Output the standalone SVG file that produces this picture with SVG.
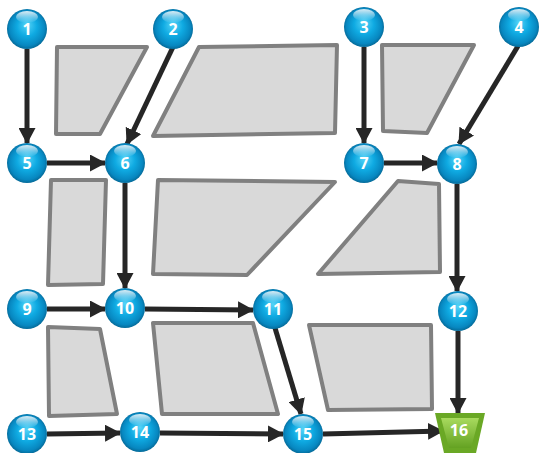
<svg xmlns="http://www.w3.org/2000/svg" width="540" height="453" viewBox="0 0 540 453">
<defs>
<radialGradient id="ball" cx="0.5" cy="0.5" r="0.55" fx="0.5" fy="0.38">
<stop offset="0" stop-color="#55d4f8"/>
<stop offset="0.45" stop-color="#0faae2"/>
<stop offset="0.8" stop-color="#0787c0"/>
<stop offset="1" stop-color="#045a82"/>
</radialGradient>
<linearGradient id="shine" x1="0" y1="0" x2="0" y2="1">
<stop offset="0" stop-color="#ffffff" stop-opacity="0.85"/>
<stop offset="1" stop-color="#ffffff" stop-opacity="0"/>
</linearGradient>
<linearGradient id="green" x1="0" y1="0" x2="0" y2="1">
<stop offset="0" stop-color="#a8da5e"/>
<stop offset="1" stop-color="#64a222"/>
</linearGradient>
<marker id="arr" markerUnits="userSpaceOnUse" markerWidth="16" markerHeight="17" viewBox="0 0 16 17" refX="15" refY="8.5" orient="auto">
<path d="M0,0 L16,8.5 L0,17 Z" fill="#262626"/>
</marker>
<g id="ballshape">
<circle r="20" fill="url(#ball)"/>
<ellipse cx="0" cy="-12" rx="11" ry="6" fill="url(#shine)"/>
</g>
</defs>
<style>
.blk{fill:#d9d9d9;stroke:#808080;stroke-width:4;stroke-linejoin:round}
.c{stroke:#262626;stroke-width:5;fill:none;marker-end:url(#arr)}
.t{font-family:"Open Sans","Liberation Sans",sans-serif;font-weight:bold;font-size:16px;fill:#ffffff;text-anchor:middle}
</style>
<g id="blocks">
<polygon class="blk" points="57,47 147,47 100,134 56,134"/>
<polygon class="blk" points="199,47 337,45 335,133 153,136"/>
<polygon class="blk" points="382,45 474,45 427,133 383,131"/>
<polygon class="blk" points="51,180 106,180 103,284 48,285"/>
<polygon class="blk" points="158,180 335,182 247,275 153,274"/>
<polygon class="blk" points="398,181 439,184 440,272 318,274"/>
<polygon class="blk" points="48,327 100,329 117,414 49,416"/>
<polygon class="blk" points="153,323 253,323 278,414 162,414"/>
<polygon class="blk" points="309,325 431,325 432,409 328,410"/>
</g>
<g id="connectors">
<line class="c" x1="27" y1="49" x2="27" y2="143"/>
<line class="c" x1="173" y1="47" x2="127" y2="144"/>
<line class="c" x1="47" y1="163" x2="105" y2="163"/>
<line class="c" x1="364" y1="47" x2="364" y2="143"/>
<line class="c" x1="518" y1="46" x2="459" y2="144"/>
<line class="c" x1="384" y1="163" x2="437" y2="163"/>
<line class="c" x1="125" y1="183" x2="125" y2="288"/>
<line class="c" x1="47" y1="309" x2="105" y2="309"/>
<line class="c" x1="145" y1="309" x2="253" y2="310"/>
<line class="c" x1="275" y1="328" x2="301" y2="414"/>
<line class="c" x1="457" y1="184" x2="457" y2="291"/>
<line class="c" x1="458" y1="331" x2="458" y2="413"/>
<line class="c" x1="47" y1="434" x2="120" y2="433"/>
<line class="c" x1="160" y1="433" x2="283" y2="434"/>
<line class="c" x1="323" y1="434" x2="443" y2="431"/>
</g>
<g id="n1"><use href="#ballshape" x="27" y="29"/><text class="t" x="27" y="35">1</text></g>
<g id="n2"><use href="#ballshape" x="173" y="29"/><text class="t" x="173" y="35">2</text></g>
<g id="n3"><use href="#ballshape" x="364" y="27"/><text class="t" x="364" y="33">3</text></g>
<g id="n4"><use href="#ballshape" x="519" y="27"/><text class="t" x="519" y="33">4</text></g>
<g id="n5"><use href="#ballshape" x="27" y="163"/><text class="t" x="27" y="169">5</text></g>
<g id="n6"><use href="#ballshape" x="125" y="163"/><text class="t" x="125" y="169">6</text></g>
<g id="n7"><use href="#ballshape" x="364" y="163"/><text class="t" x="364" y="169">7</text></g>
<g id="n8"><use href="#ballshape" x="457" y="164"/><text class="t" x="457" y="170">8</text></g>
<g id="n9"><use href="#ballshape" x="27" y="309"/><text class="t" x="27" y="315">9</text></g>
<g id="n10"><use href="#ballshape" x="125" y="308"/><text class="t" x="125" y="314">10</text></g>
<g id="n11"><use href="#ballshape" x="273" y="309"/><text class="t" x="273" y="315">11</text></g>
<g id="n12"><use href="#ballshape" x="458" y="311"/><text class="t" x="458" y="317">12</text></g>
<g id="n13"><use href="#ballshape" x="27" y="434"/><text class="t" x="27" y="440">13</text></g>
<g id="n14"><use href="#ballshape" x="140" y="432"/><text class="t" x="140" y="438">14</text></g>
<g id="n15"><use href="#ballshape" x="303" y="434"/><text class="t" x="303" y="440">15</text></g>
<g id="n16">
<polygon points="435,413 485,413 476,453 444,453" fill="#6aa825"/>
<polygon points="441,418 479,418 471,448 449,448" fill="url(#green)"/>
<text class="t" x="459" y="436">16</text>
</g>
</svg>
